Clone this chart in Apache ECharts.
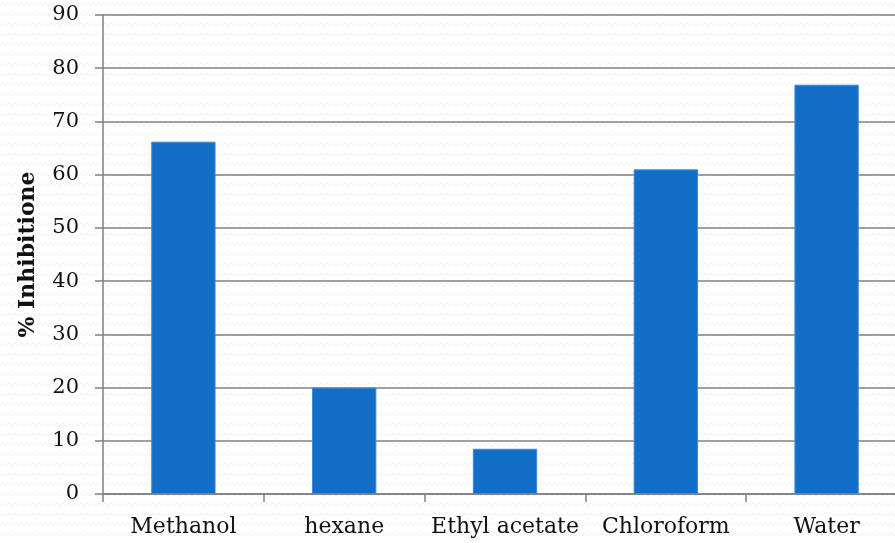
<!DOCTYPE html>
<html>
<head>
<meta charset="utf-8">
<script src="https://cdn.jsdelivr.net/npm/echarts@6/dist/echarts.min.js"></script>
<style>
  html, body { margin: 0; padding: 0; background: #ffffff; overflow: hidden; width: 895px; height: 543px; }
  /* the plot runs past the right edge of the page, so the canvas is wider than the window */
  #chart { width: 907px; height: 543px; }
</style>
</head>
<body>
<div id="chart"></div>
<script>
const categories = ['Methanol', 'hexane', 'Ethyl acetate', 'Chloroform', 'Water'];
const inhibition = [66.2, 20, 8.5, 61, 76.9];
const yTicks = { min: 0, max: 90, interval: 10 };

// faint zig-zag paper texture behind the chart
function makeTexture() {
  const c = document.createElement('canvas');
  c.width = 12; c.height = 10;
  const g = c.getContext('2d');
  g.fillStyle = '#ffffff';
  g.fillRect(0, 0, 12, 10);
  g.strokeStyle = '#f0f0f0';
  g.lineWidth = 1;
  g.beginPath();
  g.moveTo(0, 6); g.lineTo(3, 3); g.lineTo(6, 6); g.lineTo(9, 3); g.lineTo(12, 6);
  g.stroke();
  return c;
}

const chart = echarts.init(document.getElementById('chart'), null, { renderer: 'canvas' });
const serif = '"DejaVu Serif", "Liberation Serif", serif';

chart.setOption({
  backgroundColor: { image: makeTexture(), repeat: 'repeat' },
  animation: false,
  grid: { left: 103, right: 0, top: 15, bottom: 49, containLabel: false },
  xAxis: {
    type: 'category',
    data: categories,
    boundaryGap: true,
    axisLine: { show: true, lineStyle: { color: '#808080', width: 1.5 } },
    axisTick: { show: true, interval: 0, length: 8, alignWithLabel: false, lineStyle: { color: '#808080', width: 1.5 } },
    axisLabel: { interval: 0, hideOverlap: false, color: '#111', fontFamily: serif, fontSize: 22, margin: 22 },
    splitLine: { show: false }
  },
  yAxis: {
    type: 'value',
    min: yTicks.min,
    max: yTicks.max,
    interval: yTicks.interval,
    name: '% Inhibitione',
    nameLocation: 'middle',
    nameGap: 64,
    nameTextStyle: { color: '#111', fontFamily: serif, fontSize: 22, fontWeight: 'bold' },
    axisLine: { show: true, lineStyle: { color: '#808080', width: 1.5 } },
    axisTick: { show: true, length: 8, lineStyle: { color: '#808080', width: 1.5 } },
    axisLabel: { color: '#111', fontFamily: serif, fontSize: 21, margin: 24 },
    splitLine: { show: true, lineStyle: { color: '#808080', width: 1.5 } }
  },
  series: [{
    type: 'bar',
    data: inhibition,
    barWidth: '40%',
    itemStyle: { color: '#126ec6', borderColor: '#3d8ad6', borderWidth: 1 }
  }]
});
</script>
</body>
</html>
